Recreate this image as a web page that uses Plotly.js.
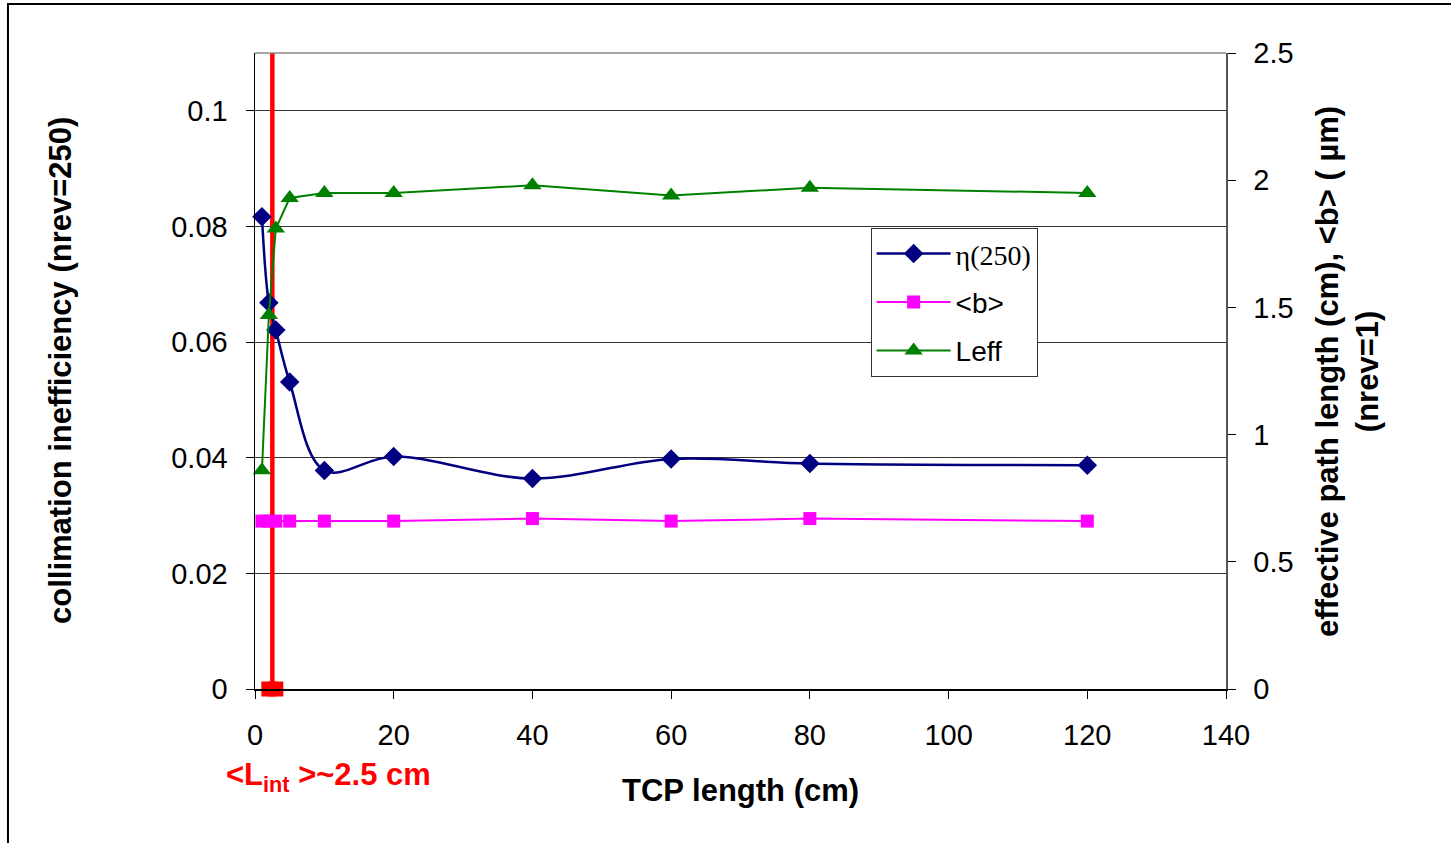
<!DOCTYPE html>
<html>
<head>
<meta charset="utf-8">
<script src="https://cdn.plot.ly/plotly-3.0.1.min.js"></script>
<style>html,body{margin:0;padding:0;background:#fff;}#chart{width:1451px;height:843px;}</style>
</head>
<body>
<div id="chart"></div>
<script>
// ---- data ----
const tcpLength = [1, 2, 3, 5, 10, 20, 40, 60, 80, 120];           // cm
const eta250    = [0.0817, 0.0668, 0.0621, 0.0531, 0.0378, 0.0402, 0.0364, 0.0398, 0.0390, 0.0387];
const bMean     = [0.66, 0.66, 0.66, 0.66, 0.66, 0.66, 0.67, 0.66, 0.67, 0.66];
const leff      = [0.86, 1.47, 1.81, 1.93, 1.95, 1.95, 1.98, 1.94, 1.97, 1.95];
const lintX     = [2.5, 2.5];
const lintY     = [0, 0.11];
const lintMarkX = [2, 3];
const lintMarkY = [0, 0];
const xTicks    = [0, 20, 40, 60, 80, 100, 120, 140];
const yLeftTicks  = [0, 0.02, 0.04, 0.06, 0.08, 0.1];
const yRightTicks = [0, 0.5, 1, 1.5, 2, 2.5];

const FONT = 'Liberation Sans, Arial, sans-serif';

const traces = [
  {
    x: lintX, y: lintY, type: 'scatter', mode: 'lines',
    line: {color: '#ff0000', width: 4.5}, showlegend: false, hoverinfo: 'skip'
  },
  {
    x: lintMarkX, y: lintMarkY, type: 'scatter', mode: 'markers', cliponaxis: false,
    marker: {symbol: 'square', size: 15, color: '#ff0000'}, showlegend: false, hoverinfo: 'skip'
  },
  {
    name: '<span style="font-family:Liberation Serif, Times New Roman, serif">η(250)</span>',
    legendgroup: 'g1',
    x: tcpLength, y: eta250, type: 'scatter', mode: 'lines+markers', cliponaxis: false,
    line: {color: '#000080', width: 2.5, shape: 'spline', smoothing: 1},
    marker: {symbol: 'diamond', size: 15, color: '#000080'}
  },
  {
    name: '&lt;b&gt;',
    legendgroup: 'g2',
    x: tcpLength, y: bMean, yaxis: 'y2', type: 'scatter', mode: 'lines+markers', cliponaxis: false,
    line: {color: '#ff00ff', width: 2},
    marker: {symbol: 'square', size: 13, color: '#ff00ff'}
  },
  {
    name: 'Leff',
    legendgroup: 'g3',
    x: tcpLength, y: leff, yaxis: 'y2', type: 'scatter', mode: 'lines+markers', cliponaxis: false,
    line: {color: '#008000', width: 2},
    marker: {symbol: 'triangle-up', size: 16, color: '#008000'}
  }
];

const layout = {
  width: 1451, height: 843,
  margin: {l: 255, r: 225, t: 53, b: 154},
  paper_bgcolor: '#ffffff', plot_bgcolor: '#ffffff',
  font: {family: FONT, size: 29, color: '#000'},
  showlegend: true,
  legend: {
    x: 0.634, y: 0.725, xanchor: 'left', yanchor: 'top',
    bgcolor: '#ffffff', bordercolor: '#333', borderwidth: 1,
    font: {family: FONT, size: 28, color: '#000'},
    tracegroupgap: 9, itemwidth: 74
  },
  xaxis: {
    range: [0, 140], tickvals: xTicks, ticktext: xTicks.map(String),
    showgrid: false, zeroline: false,
    showline: true, linecolor: '#000', linewidth: 1.5,
    ticks: 'outside', ticklen: 8, tickcolor: '#000', tickwidth: 1,
    ticklabelstandoff: 12,
    tickfont: {family: FONT, size: 29, color: '#000'}
  },
  yaxis: {
    range: [0, 0.11], tickvals: yLeftTicks, ticktext: yLeftTicks.map(String),
    showgrid: true, gridcolor: '#333', gridwidth: 1,
    zeroline: false, showline: true, linecolor: '#000', linewidth: 1.5,
    ticks: 'outside', ticklen: 8, tickcolor: '#000', tickwidth: 1,
    ticklabelstandoff: 12,
    tickfont: {family: FONT, size: 29, color: '#000'}
  },
  yaxis2: {
    range: [0, 2.5], tickvals: yRightTicks, ticktext: yRightTicks.map(String),
    overlaying: 'y', side: 'right', showgrid: false, zeroline: false,
    showline: true, linecolor: '#555', linewidth: 1.5,
    ticks: 'outside', ticklen: 8, tickcolor: '#000', tickwidth: 1,
    ticklabelstandoff: 12,
    tickfont: {family: FONT, size: 29, color: '#000'}
  },
  shapes: [
    // top border of plot area
    {type: 'line', xref: 'paper', yref: 'paper', x0: 0, x1: 1, y0: 1, y1: 1,
     line: {color: '#888', width: 1.5}},
    // outer chart frame
    {type: 'rect', xref: 'paper', yref: 'paper', x0: -0.2544, x1: 1.5, y0: -0.5, y1: 1.077,
     line: {color: '#000', width: 2}, fillcolor: 'rgba(0,0,0,0)'}
  ],
  annotations: [
    {text: '<b>collimation inefficiency (nrev=250)</b>', xref: 'paper', yref: 'paper',
     x: -0.2008, y: 0.5, xanchor: 'center', yanchor: 'middle', textangle: -90, showarrow: false,
     font: {family: FONT, size: 31, color: '#000'}},
    {text: '<b>effective path length (cm), &lt;b&gt; ( µm)<br>(nrev=1)</b>', xref: 'paper', yref: 'paper',
     x: 1.1246, y: 0.5, xanchor: 'center', yanchor: 'middle', textangle: -90, showarrow: false,
     font: {family: FONT, size: 31, color: '#000'}},
    {text: '<b>TCP length (cm)</b>', xref: 'paper', yref: 'paper',
     x: 0.5005, y: -0.160, xanchor: 'center', yanchor: 'middle', showarrow: false,
     font: {family: FONT, size: 31, color: '#000'}},
    {text: '<b>&lt;L<sub>int</sub> &gt;~2.5 cm</b>', xref: 'paper', yref: 'paper',
     x: 0.0752, y: -0.138, xanchor: 'center', yanchor: 'middle', showarrow: false,
     font: {family: FONT, size: 31, color: '#ff0000'}}
  ]
};

Plotly.newPlot('chart', traces, layout, {displayModeBar: false, staticPlot: true});
</script>
</body>
</html>
